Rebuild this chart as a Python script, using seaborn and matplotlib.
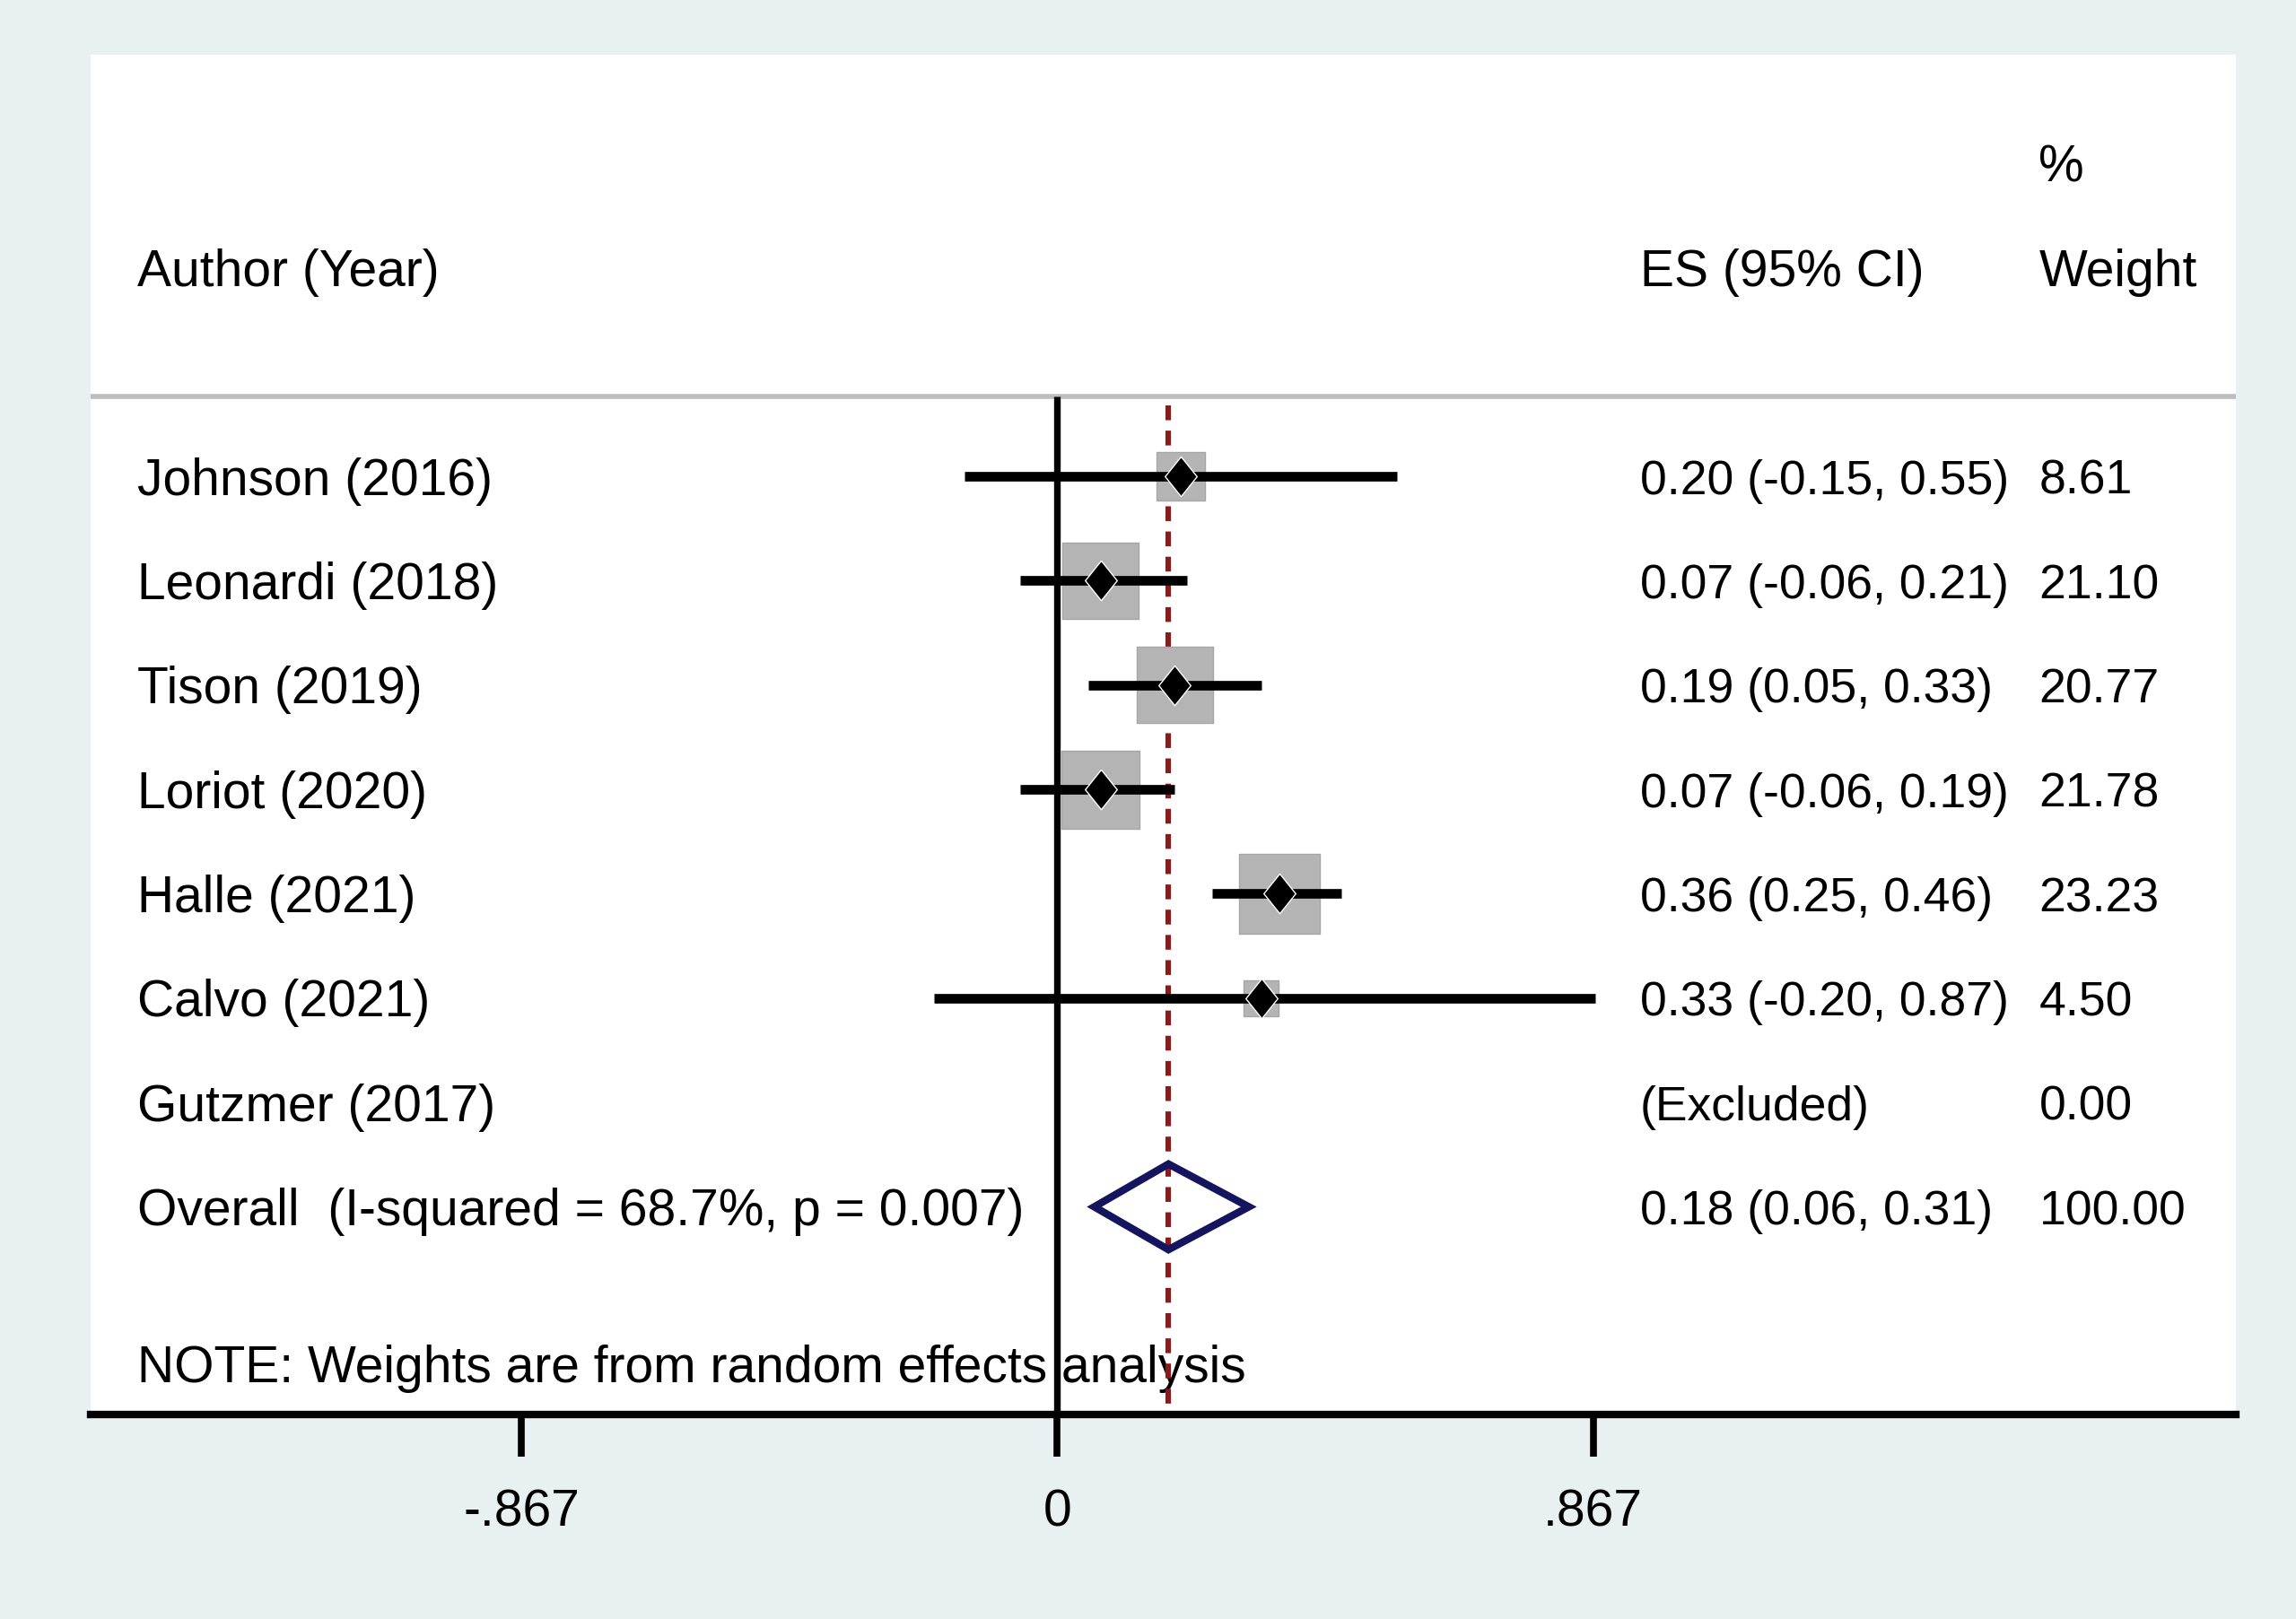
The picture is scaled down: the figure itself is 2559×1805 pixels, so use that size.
import numpy as np
import pandas as pd
import matplotlib
matplotlib.use("Agg")
import matplotlib.pyplot as plt
import seaborn as sns

# study data
studies = ["Johnson (2016)", "Leonardi (2018)", "Tison (2019)", "Loriot (2020)",
           "Halle (2021)", "Calvo (2021)", "Gutzmer (2017)"]
es = [0.20, 0.07, 0.19, 0.07, 0.36, 0.33, np.nan]
ci_low = [-0.15, -0.06, 0.05, -0.06, 0.25, -0.20, np.nan]
ci_high = [0.55, 0.21, 0.33, 0.19, 0.46, 0.87, np.nan]
weights = [8.61, 21.10, 20.77, 21.78, 23.23, 4.50, 0.00]

overall_label = "Overall  (I-squared = 68.7%, p = 0.007)"
overall_es = 0.18
overall_low = 0.06
overall_high = 0.31
overall_weight = 100.00

xtick_values = [-0.867, 0, 0.867]
xtick_labels = ["-.867", "0", ".867"]
note = "NOTE: Weights are from random effects analysis"

sns.set_style("white")
plt.rcParams["font.family"] = ["Liberation Sans", "DejaVu Sans"]
plt.rcParams["text.color"] = "black"
plt.rcParams["xtick.color"] = "black"
plt.rcParams["xtick.labelcolor"] = "black"

W, H = 2559, 1806
fig = plt.figure(figsize=(W / 100, H / 100), dpi=100, facecolor="#E8F0F2")
ax = fig.add_axes([101 / W, (H - 1578) / H, (2492 - 101) / W, (1578 - 62) / H])
ax.set_facecolor("white")

rows = np.arange(len(studies))
df = pd.DataFrame({"study": studies, "es": es, "low": ci_low, "high": ci_high,
                   "weight": weights, "row": rows})
shown = df[df.weight > 0]

# weight boxes, area proportional to weight
k = 180.0
sns.scatterplot(data=shown, x="es", y="row", size="weight",
                sizes=(k * shown.weight.min(), k * shown.weight.max()),
                marker="s", color="#B4B4B4", edgecolor="#A6A6A6", linewidth=1,
                legend=False, ax=ax, zorder=2)

# confidence intervals
ax.hlines(shown.row, shown.low, shown.high, color="black", lw=7.7, zorder=3)

# point estimates
diamond = [(0, 1), (0.8, 0), (0, -1), (-0.8, 0), (0, 1)]
ax.plot(shown.es, shown.row, linestyle="none", marker=diamond, markersize=32,
        markerfacecolor="black", markeredgecolor="white", markeredgewidth=1, zorder=4)

# overall diamond
orow = len(studies)
ax.fill([overall_low, overall_es, overall_high, overall_es],
        [orow, orow - 0.41, orow, orow + 0.41],
        facecolor="none", edgecolor="#15155F", lw=6, joinstyle="miter", zorder=4)

# reference lines
ax.plot([0, 0], [-0.765, 9.0], color="black", lw=5.3, zorder=2.5, solid_capstyle="butt")
ax.plot([overall_es, overall_es], [-0.68, 9.0], color="#8B1A1A", lw=4.4,
        dashes=(2.7, 1.9), zorder=1.5)
ax.axhline(-0.765, color="#BEBEBE", lw=4, zorder=1)

# text columns
fs = 41
fs_num = 38.5
dy = 0.04
x_lab, x_es, x_wt = -1.488, 0.943, 1.588
ax.text(x_lab, -2.0 + dy, "Author (Year)", fontsize=fs, va="center", ha="left")
ax.text(x_es, -2.0 + dy, "ES (95% CI)", fontsize=fs, va="center", ha="left")
ax.text(x_wt, -2.0 + dy, "Weight", fontsize=fs, va="center", ha="left")
ax.text(x_wt, -3.0 + dy, "%", fontsize=fs, va="center", ha="left")

for i, r in df.iterrows():
    ax.text(x_lab, r.row + dy, r.study, fontsize=fs, va="center", ha="left", zorder=1)
    if r.weight > 0:
        es_txt = f"{r.es:.2f} ({r.low:.2f}, {r.high:.2f})"
    else:
        es_txt = "(Excluded)"
    ax.text(x_es, r.row + dy, es_txt, fontsize=fs_num, va="center", ha="left", zorder=1)
    ax.text(x_wt, r.row + dy, f"{r.weight:.2f}", fontsize=fs_num, va="center", ha="left", zorder=1)

ax.text(x_lab, orow + dy, overall_label, fontsize=fs, va="center", ha="left", zorder=1)
ax.text(x_es, orow + dy, f"{overall_es:.2f} ({overall_low:.2f}, {overall_high:.2f})",
        fontsize=fs_num, va="center", ha="left", zorder=1)
ax.text(x_wt, orow + dy, f"{overall_weight:.2f}", fontsize=fs_num, va="center", ha="left", zorder=1)
ax.text(x_lab, 8.5 + dy, note, fontsize=fs, va="center", ha="left", zorder=1)

# axes
ax.set_xlim(-1.5636, 1.9067)
ax.set_ylim(8.99, -4.04)
ax.set_xlabel("")
ax.set_ylabel("")
ax.set_yticks([])
ax.set_xticks(xtick_values)
ax.set_xticklabels(xtick_labels)
ax.tick_params(axis="x", direction="out", length=34, width=5.5, pad=25,
               labelsize=fs, color="black", labelcolor="black", bottom=True)
for side in ["top", "left", "right"]:
    ax.spines[side].set_visible(False)
ax.spines["bottom"].set_color("black")
ax.spines["bottom"].set_linewidth(6)

fig.savefig("out.png", dpi=100, facecolor=fig.get_facecolor())
